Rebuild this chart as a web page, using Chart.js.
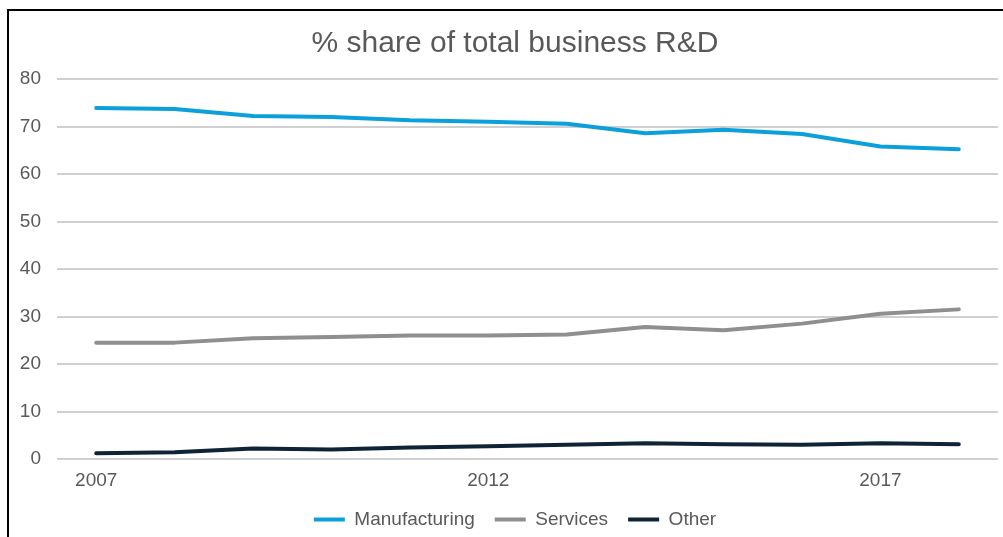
<!DOCTYPE html>
<html>
<head>
<meta charset="utf-8">
<script src="https://cdn.jsdelivr.net/npm/chart.js@4"></script>
<style>
  html, body { margin: 0; padding: 0; background: #fff; overflow: hidden; }
  #wrap { position: relative; width: 1003px; height: 537px; overflow: hidden; }
  #frame { position: absolute; left: 7px; top: 9px; width: 1100px; height: 700px;
           border-left: 2px solid #000; border-top: 2px solid #000; }
  #box { position: absolute; left: 0; top: 0; width: 1003px; height: 539px; }
</style>
</head>
<body>
<div id="wrap">
  <div id="frame"></div>
  <div id="box"><canvas id="chart"></canvas></div>
</div>
<script>
// share of business R&D by sector, %
const years = ["2007", "2008", "2009", "2010", "2011", "2012", "2013", "2014", "2015", "2016", "2017", "2018"];
const manufacturing = [73.9, 73.7, 72.2, 72.0, 71.3, 71.0, 70.6, 68.6, 69.3, 68.4, 65.8, 65.2];
const services = [24.5, 24.5, 25.4, 25.7, 26.0, 26.0, 26.2, 27.8, 27.1, 28.5, 30.6, 31.5];
const other = [1.2, 1.4, 2.2, 2.0, 2.4, 2.7, 3.0, 3.3, 3.1, 3.0, 3.3, 3.1];

const textColor = "#595959";
const font = "'Liberation Sans', Arial, sans-serif";

function series(label, data, color) {
  return {
    label, data,
    borderColor: color,
    backgroundColor: color,
    borderWidth: 4,
    borderCapStyle: "round",
    borderJoinStyle: "round",
    pointRadius: 0,
    tension: 0
  };
}

// title and legend are centred on the outer frame, not on the axis box
const centreBlocks = {
  id: "centreBlocks",
  afterLayout(chart) {
    [chart.titleBlock, chart.legend].forEach(b => {
      if (!b) return;
      b.left = 32;
      b.right = 998;
    });
  }
};

new Chart(document.getElementById("chart"), {
  type: "line",
  data: {
    labels: years,
    datasets: [
      series("Manufacturing", manufacturing, "#0ba0dc"),
      series("Services", services, "#8f8f8f"),
      series("Other", other, "#0e2436")
    ]
  },
  plugins: [centreBlocks],
  options: {
    responsive: true,
    maintainAspectRatio: false,
    animation: false,
    layout: { padding: { left: 18, right: 5, top: 0, bottom: 0 } },
    plugins: {
      title: {
        display: true,
        text: "% share of total business R&D",
        color: textColor,
        font: { family: font, size: 30, weight: "normal" },
        padding: { top: 26, bottom: 17 }
      },
      legend: {
        position: "bottom",
        labels: {
          color: textColor,
          font: { family: font, size: 19 },
          boxWidth: 31,
          boxHeight: 4,
          padding: 20,
          generateLabels(chart) {
            return chart.data.datasets.map((ds, i) => ({
              text: ds.label,
              fillStyle: ds.borderColor,
              strokeStyle: ds.borderColor,
              lineWidth: 0,
              fontColor: textColor,
              datasetIndex: i
            }));
          }
        }
      },
      tooltip: { enabled: false }
    },
    scales: {
      x: {
        offset: true,
        grid: { display: false, drawTicks: false },
        border: { display: false },
        ticks: {
          color: textColor,
          font: { family: font, size: 19, lineHeight: 1 },
          padding: 12,
          autoSkip: false,
          maxRotation: 0,
          callback: (v, i) => (i % 5 === 0 ? years[i] : "")
        },
        afterFit(scale) { scale.height = 31; }
      },
      y: {
        min: 0,
        max: 80,
        grid: { color: "#d0d0d0", lineWidth: 2, drawTicks: false },
        border: { display: false },
        ticks: {
          stepSize: 10,
          color: textColor,
          font: { family: font, size: 19 },
          padding: 16
        },
        afterFit(scale) { scale.width = 39; }
      }
    }
  }
});
</script>
</body>
</html>
